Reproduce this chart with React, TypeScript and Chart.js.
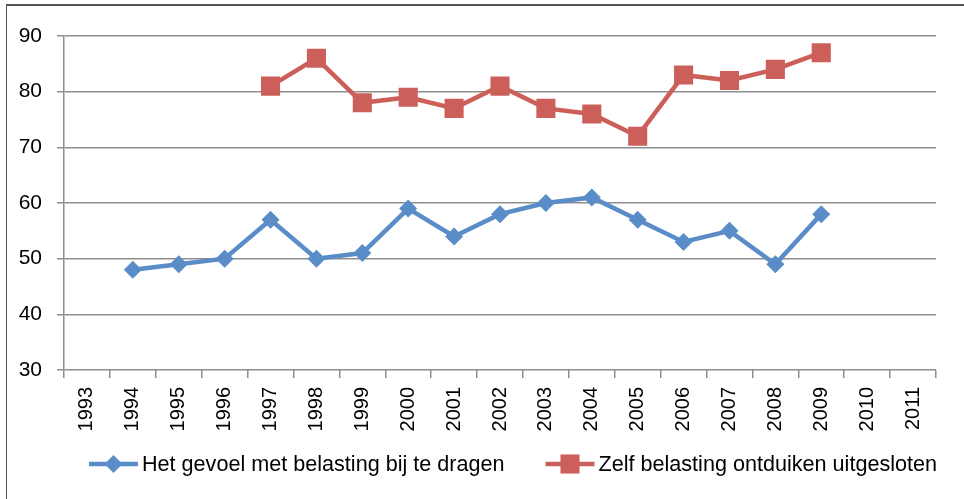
import React, { useEffect, useRef } from "react";
import { Chart, registerables } from "chart.js";

Chart.register(...registerables);

const years = [
  "1993", "1994", "1995", "1996", "1997", "1998", "1999", "2000", "2001", "2002",
  "2003", "2004", "2005", "2006", "2007", "2008", "2009", "2010", "2011",
];
const gevoel = [null, 48, 49, 50, 57, 50, 51, 59, 54, 58, 60, 61, 57, 53, 55, 49, 58, null, null];
const ontduiken = [null, null, null, null, 81, 86, 78, 79, 77, 81, 77, 76, 72, 83, 82, 84, 87, null, null];
const seriesNames = ["Het gevoel met belasting bij te dragen", "Zelf belasting ontduiken uitgesloten"];
const yMin = 30;
const yMax = 90;
const yStep = 10;

const BLUE = "#5A8CC8";
const RED = "#CD5F5B";
const GRID = "#8E8E8E";
const FONT = "Liberation Sans";

const framePlugin = {
  id: "frame",
  beforeDraw(chart: any) {
    const ctx = chart.ctx;
    ctx.save();
    ctx.fillStyle = "#fff";
    ctx.fillRect(0, 0, chart.width, chart.height);
    ctx.fillStyle = "#555";
    ctx.fillRect(6, 4, chart.width - 6, 2);
    ctx.fillRect(6, 4, 1, chart.height - 4);
    ctx.restore();
  },
};

const legendPlugin = {
  id: "customLegend",
  afterDraw(chart: any) {
    const ctx = chart.ctx;
    ctx.save();
    ctx.font = `21.6px "${FONT}"`;
    const lineLen = 49;
    const gapText = 4;
    const itemGap = 41;
    const items = chart.data.datasets.map((ds: any) => ({ ds, w: ctx.measureText(ds.label).width }));
    const total =
      items.reduce((s: number, it: any) => s + lineLen + gapText + it.w, 0) + itemGap * (items.length - 1);
    let x = 513 - total / 2;
    const y = 464;
    for (const it of items) {
      const ds = it.ds;
      ctx.strokeStyle = ds.borderColor;
      ctx.lineWidth = ds.borderWidth;
      ctx.beginPath();
      ctx.moveTo(x, y);
      ctx.lineTo(x + lineLen, y);
      ctx.stroke();
      const cx = x + lineLen / 2;
      ctx.fillStyle = ds.pointBackgroundColor;
      ctx.beginPath();
      if (ds.pointStyle === "rectRot") {
        const r = ds.pointRadius;
        ctx.moveTo(cx - r, y);
        ctx.lineTo(cx, y - r);
        ctx.lineTo(cx + r, y);
        ctx.lineTo(cx, y + r);
        ctx.closePath();
      } else {
        const s = Math.SQRT1_2 * ds.pointRadius;
        ctx.rect(cx - s, y - s, 2 * s, 2 * s);
      }
      ctx.fill();
      ctx.fillStyle = "#000";
      ctx.textBaseline = "middle";
      ctx.textAlign = "left";
      ctx.fillText(ds.label, x + lineLen + gapText, y + 1);
      x += lineLen + gapText + it.w + itemGap;
    }
    ctx.restore();
  },
};

export default function App() {
  const ref = useRef<HTMLCanvasElement | null>(null);
  useEffect(() => {
    if (!ref.current) return;
    const chart = new Chart(ref.current, {
      type: "line",
      data: {
        labels: years,
        datasets: [
          {
            label: seriesNames[0],
            data: gevoel,
            borderColor: BLUE,
            backgroundColor: BLUE,
            borderWidth: 4.5,
            pointStyle: "rectRot",
            pointRadius: 9,
            pointBackgroundColor: BLUE,
            pointBorderColor: BLUE,
            pointBorderWidth: 0,
            tension: 0,
          },
          {
            label: seriesNames[1],
            data: ontduiken,
            borderColor: RED,
            backgroundColor: RED,
            borderWidth: 4.5,
            pointStyle: "rect",
            pointRadius: 13.5,
            pointBackgroundColor: RED,
            pointBorderColor: RED,
            pointBorderWidth: 0,
            tension: 0,
          },
        ],
      },
      options: {
        responsive: false,
        animation: false,
        layout: { padding: { top: 36, right: 28, left: 0, bottom: 0 } },
        plugins: { legend: { display: false }, tooltip: { enabled: false } },
        scales: {
          x: {
            type: "category",
            offset: true,
            grid: {
              display: true,
              drawOnChartArea: false,
              drawTicks: true,
              tickLength: 8,
              offset: true,
              color: GRID,
              lineWidth: 1.5,
            },
            border: { display: false },
            ticks: {
              minRotation: 90,
              maxRotation: 90,
              padding: 9,
              autoSkip: false,
              color: "#000",
              font: { family: FONT, size: 20 },
            },
            afterFit: (s: any) => {
              s.height = 129;
            },
          },
          y: {
            min: yMin,
            max: yMax,
            ticks: {
              stepSize: yStep,
              padding: 15,
              color: "#000",
              font: { family: FONT, size: 21 },
            },
            grid: { color: GRID, lineWidth: 1.5, tickLength: 7 },
            border: { display: true, color: GRID, width: 1.5 },
            afterFit: (s: any) => {
              s.width = 64;
            },
          },
        },
      },
      plugins: [framePlugin, legendPlugin],
    } as any);
    return () => chart.destroy();
  }, []);
  return (
    <div style={{ position: "fixed", left: 0, top: 0, width: 964, height: 499, background: "#fff" }}>
      <canvas ref={ref} width={964} height={499} />
    </div>
  );
}
